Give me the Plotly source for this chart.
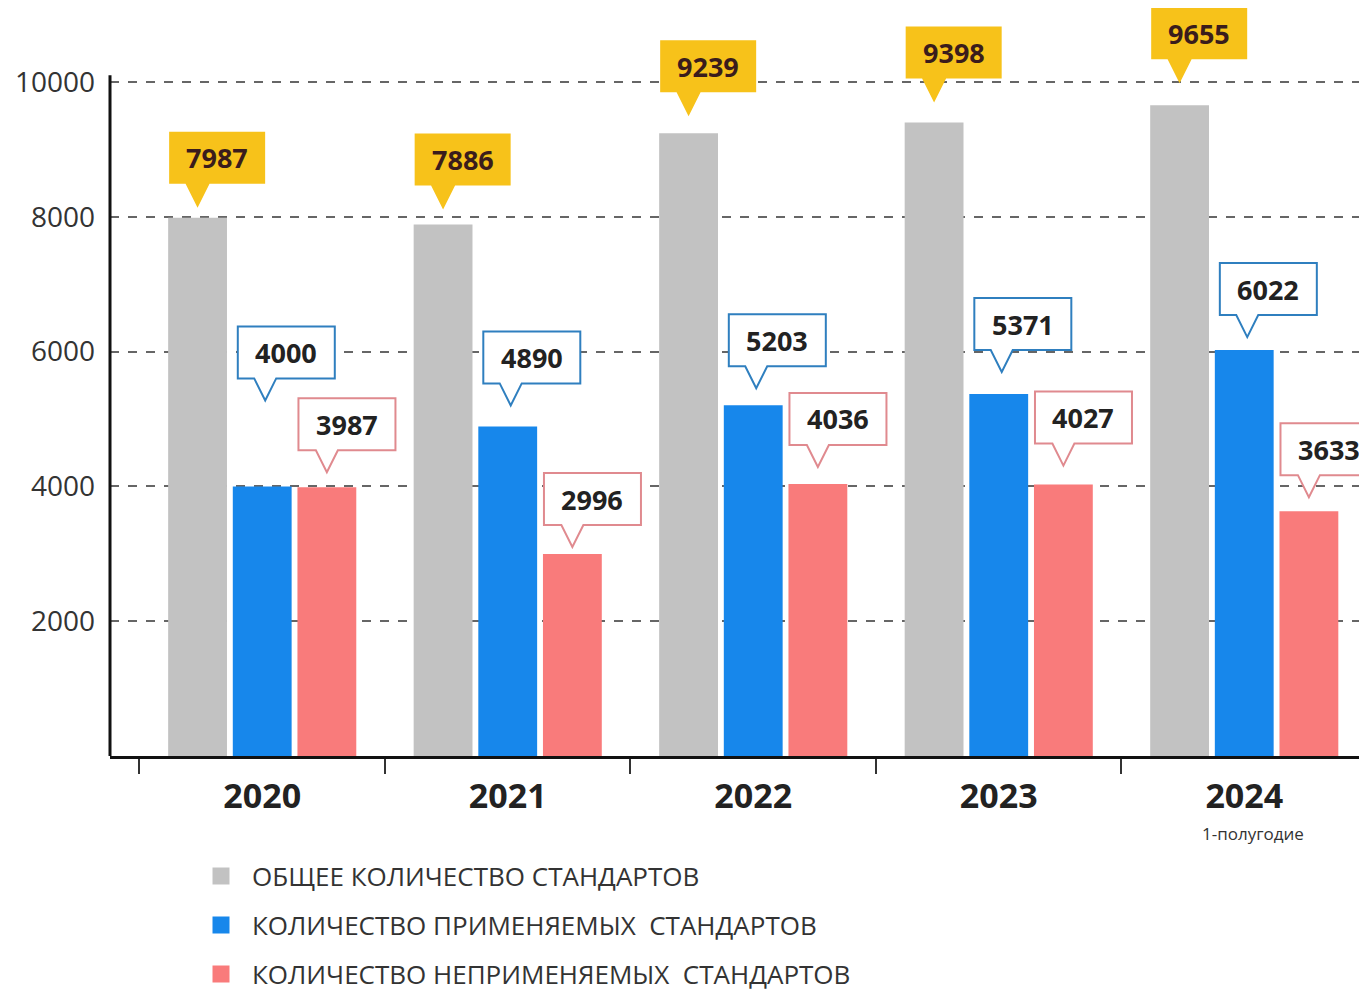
import plotly.graph_objects as go

# ---- data ----
years = ["2020", "2021", "2022", "2023", "2024"]
year_labels = ["<b>2020</b>", "<b>2021</b>", "<b>2022</b>", "<b>2023</b>", "<b>2024</b>"]
subtitle_2024 = "1-полугодие"
total = [7987, 7886, 9239, 9398, 9655]
applied = [4000, 4890, 5203, 5371, 6022]
not_applied = [3987, 2996, 4036, 4027, 3633]
series_names = ["ОБЩЕЕ КОЛИЧЕСТВО СТАНДАРТОВ",
                "КОЛИЧЕСТВО ПРИМЕНЯЕМЫХ  СТАНДАРТОВ",
                "КОЛИЧЕСТВО НЕПРИМЕНЯЕМЫХ  СТАНДАРТОВ"]
y_ticks = [2000, 4000, 6000, 8000, 10000]
y_tick_text = ["2000", "4000", "6000", "8000", "10000"]

# ---- style ----
GRAY, BLUE, RED = "#c2c2c2", "#1787eb", "#f97b7b"
YELLOW = "#f7c21a"
BLUE_EDGE, RED_EDGE = "#2f7fbf", "#e08a8f"
FONT = "Open Sans"
BARGAP, GROUPGAP = 0.21, 0.09
W, H = 1359, 984
ML, MR, MT, MB = 102, 0, 0, 236
XR = [-0.62, 4.5]
YR = [0, 11098]
PLOT_W, PLOT_H = W - ML - MR, H - MT - MB
# pixel gap between callout tip and bar top (styling)
gap_total = [10, 15, 17, 20, 22]
gap_applied = [86, 21, 17, 22, 13]
gap_not = [15, 7, 17, 19, 14]

slot = (1 - BARGAP) / 3
offsets = [-slot, 0.0, slot]
px_per_unit = PLOT_W / (XR[1] - XR[0])
half_w = slot * (1 - GROUPGAP) / 2 * px_per_unit

fig = go.Figure()
for name, vals, col in zip(series_names, [total, applied, not_applied], [GRAY, BLUE, RED]):
    fig.add_trace(go.Bar(x=years, y=vals, name=name, marker_color=col,
                         marker_line_width=0, showlegend=False, hoverinfo="skip"))

shapes = []
annotations = []

def callout(xc, val, gap, fill, edge, txtcol, box_left, box_w, tip_dx, tail_h=23, box_h=52, tail_half=12):
    base = gap + tail_h
    top = base + box_h
    bl = box_left
    br = box_left + box_w
    path = (f"M {tip_dx - tail_half},{base} L {bl},{base} L {bl},{top} L {br},{top} "
            f"L {br},{base} L {tip_dx + tail_half},{base} L {tip_dx},{gap} Z")
    shapes.append(dict(type="path", path=path, xref="x", yref="y",
                       xsizemode="pixel", ysizemode="pixel", xanchor=xc, yanchor=val,
                       fillcolor=fill, line=dict(color=edge, width=2 if edge else 0),
                       layer="above"))
    annotations.append(dict(x=xc, y=val, xref="x", yref="y", text=f"<b>{val}</b>",
                            showarrow=False, xshift=(bl + br) / 2, yshift=base + box_h / 2,
                            xanchor="center", yanchor="middle",
                            font=dict(family=FONT, size=27, color=txtcol)))

for i in range(len(years)):
    xg = i + offsets[0]
    callout(xg, total[i], gap_total[i], YELLOW, None, "#3a1c1c",
            -half_w + 1, 96, 0, tail_h=24)
    xb = i + offsets[1]
    callout(xb, applied[i], gap_applied[i], "white", BLUE_EDGE, "#222222",
            -half_w + 5, 97, 3, tail_h=22, tail_half=11)
    xr = i + offsets[2]
    callout(xr, not_applied[i], gap_not[i], "white", RED_EDGE, "#222222",
            -half_w + 1, 97, 0, tail_h=22, tail_half=11)

# y-axis line
shapes.append(dict(type="line", xref="paper", yref="y", x0=0, x1=0, y0=0, y1=10100,
                   line=dict(color="#111111", width=3), layer="above"))

# subtitle under 2024
annotations.append(dict(x=len(years) - 1, xref="x", y=0, yref="paper", text=subtitle_2024,
                        showarrow=False, xshift=9, yshift=-77, xanchor="center", yanchor="middle",
                        font=dict(family=FONT, size=17, color="#333333")))

# legend (drawn manually)
LEG_X_MARK = (221 - 8 - ML) / PLOT_W
LEG_X_TEXT = (250 - 8 - ML) / PLOT_W
LEG_Y0 = 876 - 8
LEG_STEP = 49
for k, (name, col) in enumerate(zip(series_names, [GRAY, BLUE, RED])):
    yp = (PLOT_H - (LEG_Y0 + k * LEG_STEP - MT)) / PLOT_H
    shapes.append(dict(type="rect", xref="paper", yref="paper",
                       xsizemode="pixel", ysizemode="pixel", xanchor=LEG_X_MARK, yanchor=yp,
                       x0=-8.5, x1=8.5, y0=-8.5, y1=8.5, fillcolor=col, line=dict(width=0)))
    annotations.append(dict(x=LEG_X_TEXT, y=yp, xref="paper", yref="paper", text=name,
                            showarrow=False, xanchor="left", yanchor="middle",
                            font=dict(family=FONT, size=26, color="#333333")))

fig.update_layout(
    width=W, height=H,
    margin=dict(l=ML, r=MR, t=MT, b=MB),
    paper_bgcolor="white", plot_bgcolor="rgba(0,0,0,0)",
    barmode="group", bargap=BARGAP, bargroupgap=GROUPGAP,
    font=dict(family=FONT, color="#333333"),
    shapes=shapes, annotations=annotations,
    showlegend=False,
    xaxis=dict(type="category", range=XR, tickmode="array", tickvals=years, ticktext=year_labels,
               tickson="boundaries", ticks="outside", ticklen=15, tickwidth=2, tickcolor="#333333",
               showline=True, linecolor="#111111", linewidth=3, showgrid=False,
               ticklabelstandoff=8,
               tickfont=dict(family=FONT, size=34, color="#222222"), zeroline=False),
    yaxis=dict(range=YR, tickmode="array", tickvals=y_ticks, ticktext=y_tick_text, showgrid=True,
               gridcolor="#666666", griddash="dash", gridwidth=1.5, zeroline=False,
               showline=False, ticks="", ticklabelstandoff=14,
               tickfont=dict(family=FONT, size=28, color="#333333")),
)

fig.write_html("out.html")
